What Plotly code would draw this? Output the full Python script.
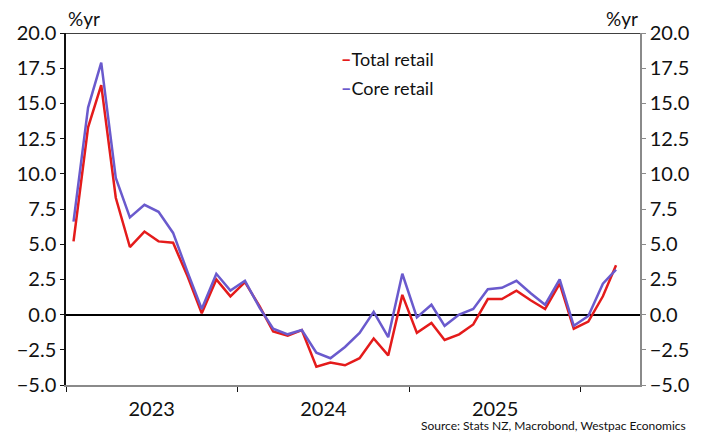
import pandas as pd
import plotly.graph_objects as go

# Monthly annual % change, Jan 2023 - Mar 2026
months = pd.date_range("2023-01-01", periods=39, freq="MS") + pd.Timedelta(days=16)

total_retail = [
    5.2, 13.3, 16.3, 8.3, 4.8, 5.9, 5.2, 5.1, 2.7, 0.1,
    2.5, 1.3, 2.3, 0.6, -1.2, -1.5, -1.1, -3.7, -3.4, -3.6,
    -3.1, -1.7, -2.9, 1.4, -1.3, -0.6, -1.8, -1.4, -0.7, 1.1,
    1.1, 1.7, 1.0, 0.4, 2.2, -1.0, -0.5, 1.3, 3.5,
]
core_retail = [
    6.6, 14.7, 17.9, 9.7, 6.9, 7.8, 7.3, 5.8, 3.0, 0.4,
    2.9, 1.7, 2.4, 0.5, -1.0, -1.4, -1.1, -2.7, -3.1, -2.3,
    -1.3, 0.2, -1.6, 2.9, -0.2, 0.7, -0.8, 0.0, 0.4, 1.8,
    1.9, 2.4, 1.5, 0.7, 2.5, -0.8, -0.1, 2.2, 3.2,
]

series_names = ["Total retail", "Core retail"]
series_colors = ["#E41B1B", "#6A5ACD"]

FONT = "Lato, 'Noto Sans', sans-serif"
INK = "#111111"
GREY = "#8A8A8A"

fig = go.Figure()
for name, vals, col in zip(series_names, [total_retail, core_retail], series_colors):
    fig.add_trace(go.Scatter(
        x=months, y=vals, name=name, mode="lines",
        line=dict(color=col, width=2.5), showlegend=False,
    ))
# invisible copy so the right-hand axis is drawn
fig.add_trace(go.Scatter(x=months, y=core_retail, yaxis="y2", mode="lines",
                         line=dict(width=0), hoverinfo="skip", showlegend=False,
                         opacity=0))

yaxis_common = dict(
    range=[-5, 20], dtick=2.5, tick0=0, tickformat=".1f",
    showgrid=False, ticks="outside", ticklen=4,
    tickfont=dict(family=FONT, size=20, color=INK),
    showline=True, linewidth=1.5,
)

fig.update_layout(
    width=707, height=437,
    margin=dict(l=66, r=67, t=33, b=52),
    paper_bgcolor="white", plot_bgcolor="white",
    font=dict(family=FONT, color=INK),
    xaxis=dict(
        type="date", range=["2023-01-01", "2026-05-07"],
        dtick="M12", tick0="2023-01-01", tickformat="%Y",
        ticklabelmode="period", ticks="outside", ticklen=5,
        tickcolor=INK, showline=True, linecolor=GREY, linewidth=2,
        showgrid=False, zeroline=False,
        tickfont=dict(family=FONT, size=20, color=INK),
    ),
    yaxis=dict(**yaxis_common, linecolor=INK, tickcolor=INK,
               zeroline=True, zerolinecolor="black", zerolinewidth=1.5),
    yaxis2=dict(**yaxis_common, overlaying="y", side="right",
                linecolor=GREY, tickcolor=GREY, zeroline=False),
)

# top frame line
fig.add_shape(type="line", xref="paper", yref="y", x0=0, x1=1, y0=20, y1=20,
              line=dict(color="black", width=1.5))

# unit labels
for xpos, anchor in [(0.0, "left"), (1.0, "right")]:
    fig.add_annotation(x=xpos, y=1.0, xref="paper", yref="paper",
                       xanchor=anchor, yanchor="bottom", yshift=1,
                       text="%yr", showarrow=False,
                       font=dict(family=FONT, size=19, color=INK))

# key
for i, (name, col) in enumerate(zip(series_names, series_colors)):
    fig.add_annotation(
        x=0.475, y=0.925 - i * 0.08, xref="paper", yref="paper",
        xanchor="left", yanchor="middle", showarrow=False,
        text=f"<span style='color:{col}'><b>\u2013</b></span>{name}",
        font=dict(family=FONT, size=18, color=INK),
    )

fig.add_annotation(x=1.0, y=0, xref="paper", yref="paper",
                   xanchor="right", yanchor="bottom", xshift=48, yshift=-50,
                   text="Source: Stats NZ, Macrobond, Westpac Economics",
                   showarrow=False, font=dict(family=FONT, size=12, color=INK))

fig.write_html("out.html")
